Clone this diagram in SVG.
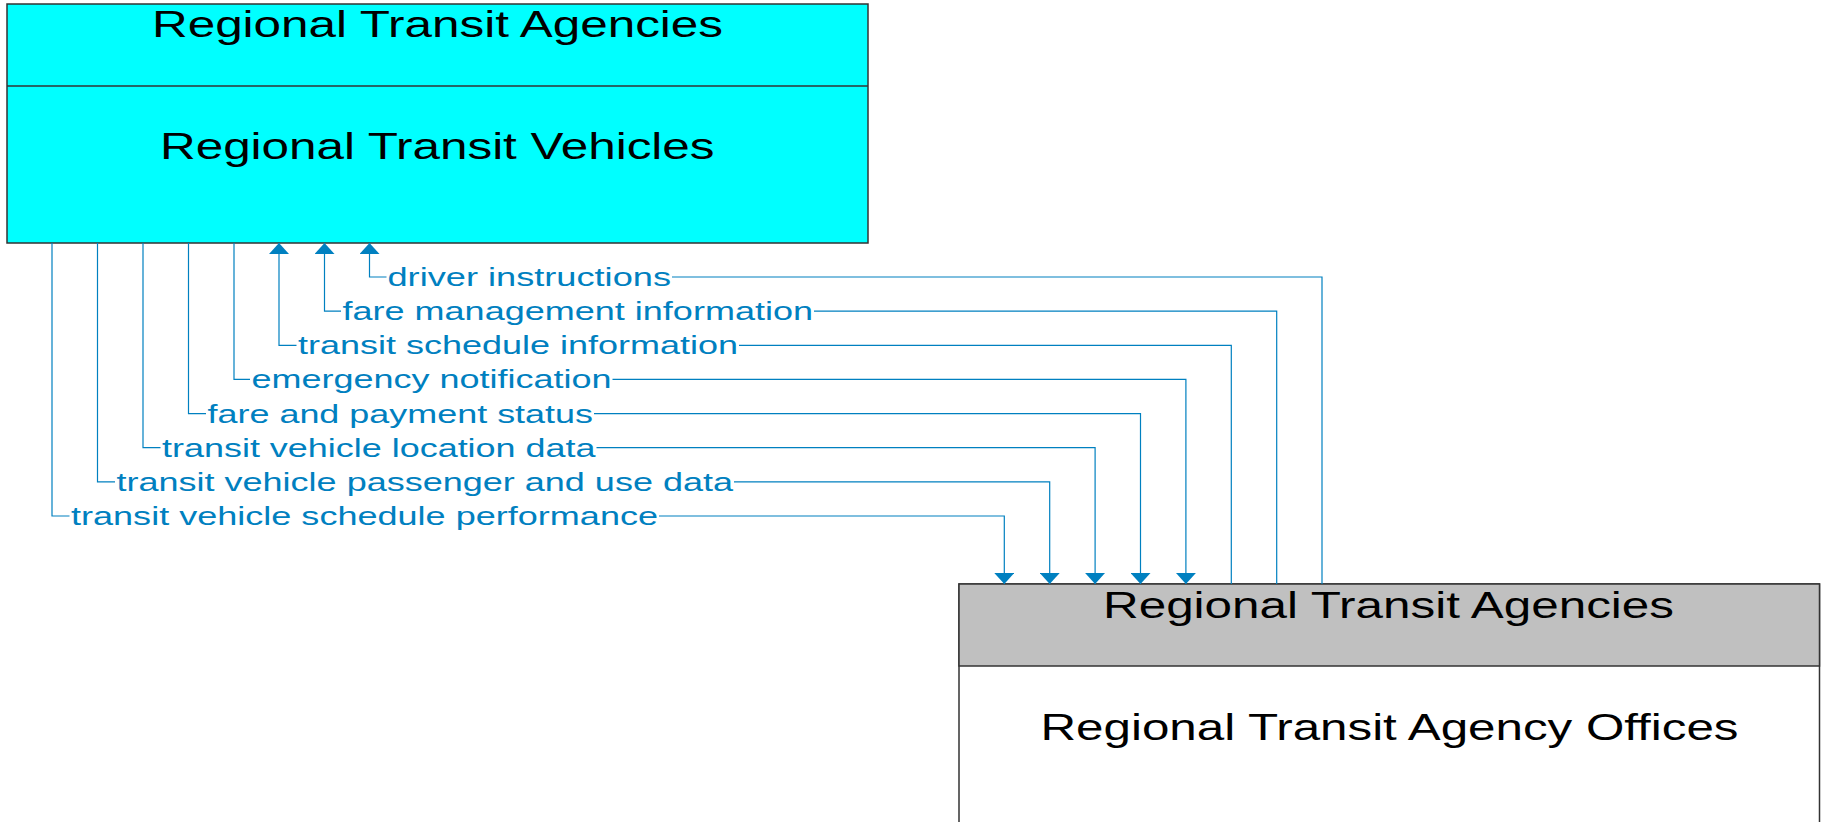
<svg xmlns="http://www.w3.org/2000/svg" width="1825" height="822" viewBox="0 0 1825 822">
<style>
.box{stroke:#333333;stroke-width:1.5}
.title{font-family:"Liberation Sans",Arial,sans-serif;font-size:36px;fill:#000000}
.lbl{font-family:"Liberation Sans",Arial,sans-serif;font-size:25px;fill:#0080C0}
.conn{fill:none;stroke:#0080C0;stroke-width:1.2}
</style>
<defs>
<marker id="arr" markerUnits="userSpaceOnUse" markerWidth="11" markerHeight="20" viewBox="0 0 11 20" refX="11" refY="10" orient="auto">
<path d="M0,0 L11,10 L0,20 z" fill="#0080C0"/>
</marker>
</defs>
<g id="node-vehicles">
<rect class="box" x="7" y="4" width="861" height="239" fill="#00FFFF"/>
<line class="box" x1="7" y1="86" x2="868" y2="86"/>
<text class="title" x="152" y="36.7" textLength="571" lengthAdjust="spacingAndGlyphs">Regional Transit Agencies</text>
<text class="title" x="160" y="159.3" textLength="554.5" lengthAdjust="spacingAndGlyphs">Regional Transit Vehicles</text>
</g>
<g id="node-offices">
<rect class="box" x="959" y="584" width="860.5" height="250" fill="#FFFFFF"/>
<rect class="box" x="959" y="584" width="860.5" height="82" fill="#C0C0C0"/>
<text class="title" x="1103" y="618.3" textLength="571" lengthAdjust="spacingAndGlyphs">Regional Transit Agencies</text>
<text class="title" x="1040.5" y="740" textLength="698" lengthAdjust="spacingAndGlyphs">Regional Transit Agency Offices</text>
</g>
<g id="connectors">
<path class="conn" marker-end="url(#arr)" d="M1322,584 V277 H672 M386.5,277 H369.5 V243"/>
<path class="conn" marker-end="url(#arr)" d="M1276.7,584 V311.1 H814 M341,311.1 H324.5 V243"/>
<path class="conn" marker-end="url(#arr)" d="M1231.3,584 V345.3 H739 M296.5,345.3 H279 V243"/>
<path class="conn" marker-end="url(#arr)" d="M234,243 V379.4 H250 M612.5,379.4 H1185.9 V584"/>
<path class="conn" marker-end="url(#arr)" d="M188.5,243 V413.6 H206 M594,413.6 H1140.5 V584"/>
<path class="conn" marker-end="url(#arr)" d="M143,243 V447.7 H160.5 M596.5,447.7 H1095.1 V584"/>
<path class="conn" marker-end="url(#arr)" d="M97.5,243 V481.9 H115 M734,481.9 H1049.7 V584"/>
<path class="conn" marker-end="url(#arr)" d="M52,243 V516 H69.5 M659,516 H1004.3 V584"/>
<text class="lbl" x="387.5" y="286" textLength="283.5" lengthAdjust="spacingAndGlyphs">driver instructions</text>
<text class="lbl" x="342.5" y="320.1" textLength="470.5" lengthAdjust="spacingAndGlyphs">fare management information</text>
<text class="lbl" x="298" y="354.3" textLength="440" lengthAdjust="spacingAndGlyphs">transit schedule information</text>
<text class="lbl" x="251.5" y="388.4" textLength="360" lengthAdjust="spacingAndGlyphs">emergency notification</text>
<text class="lbl" x="207.5" y="422.6" textLength="385.5" lengthAdjust="spacingAndGlyphs">fare and payment status</text>
<text class="lbl" x="162" y="456.7" textLength="433.5" lengthAdjust="spacingAndGlyphs">transit vehicle location data</text>
<text class="lbl" x="116.5" y="490.9" textLength="616.5" lengthAdjust="spacingAndGlyphs">transit vehicle passenger and use data</text>
<text class="lbl" x="71" y="525" textLength="587" lengthAdjust="spacingAndGlyphs">transit vehicle schedule performance</text>
</g>
</svg>
